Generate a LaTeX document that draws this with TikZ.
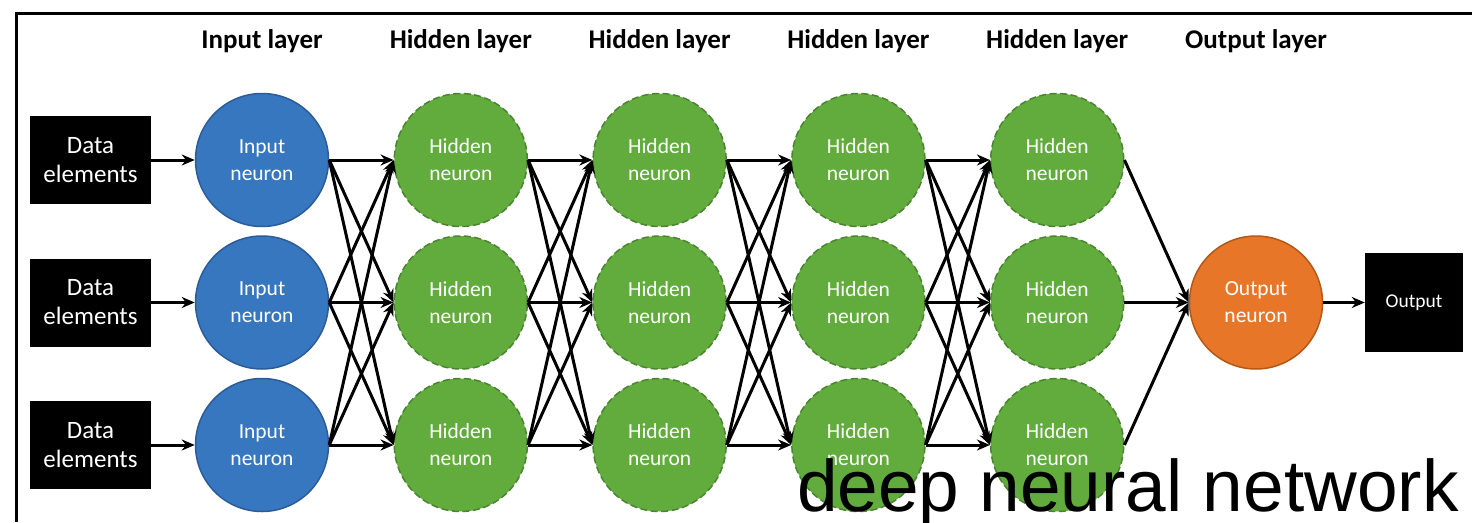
\documentclass[tikz,border=0pt]{standalone}
\usepackage{fontspec}
\setmainfont{Carlito}
\newfontfamily\captionfont{Liberation Sans}
\usepackage{xcolor}
\usepackage{tikz}
\usetikzlibrary{arrows.meta, positioning}

\definecolor{inblue}{RGB}{55,119,192}
\definecolor{inblueline}{RGB}{44,92,152}
\definecolor{hidgreen}{RGB}{98,172,62}
\definecolor{hidgreenline}{RGB}{74,132,48}
\definecolor{outorange}{RGB}{232,118,40}
\definecolor{outorangeline}{RGB}{180,88,24}

\begin{document}
\begin{tikzpicture}[x=1pt,y=-1pt,
  neuron/.style={circle,minimum size=133pt,inner sep=0pt,line width=1.5pt,
    text=white,align=center,font=\fontsize{21.5}{27}\selectfont},
  inneuron/.style={neuron,fill=inblue,draw=inblueline},
  hidneuron/.style={neuron,fill=hidgreen,draw=hidgreenline,dash pattern=on 7pt off 3.5pt},
  outneuron/.style={neuron,fill=outorange,draw=outorangeline},
  databox/.style={fill=black,text=white,inner sep=0pt,align=center},
  laytitle/.style={font=\bfseries\fontsize{27}{32}\selectfont},
  link/.style={line width=3pt,-{Stealth[length=13pt,width=11pt]}}]
\useasboundingbox (0,0) rectangle (1472,522);
\draw[line width=3pt] (16,522) -- (16,13) -- (1472,13);

% layer titles
\node[laytitle] (tin) at (262,41) {Input layer};
\foreach \l in {1,...,4}
  \node[laytitle] (th\l) at ({262+198.8*\l},41) {Hidden layer};
\node[laytitle] (tout) at (1256,41) {Output layer};

% inputs and neurons
\foreach \r/\y in {1/160,2/302.5,3/445} {
  \node[databox,minimum width=121pt,minimum height=88pt,
    font=\fontsize{25}{29}\selectfont] (d\r) at (90.5,\y) {Data\\elements};
  \node[inneuron] (in\r) at (262,\y) {Input\\neuron};
  \foreach \l in {1,...,4}
    \node[hidneuron] (h\l\r) at ({262+198.8*\l},\y) {Hidden\\neuron};
}
\node[outneuron] (on) at (1256,302.5) {Output\\neuron};
\node[databox,minimum width=98pt,minimum height=99pt,
  font=\fontsize{19.5}{23}\selectfont] (res) at (1414,302.5) {Output};

% connections
\foreach \i in {1,2,3} {
  \draw[link] (d\i.east) -- (in\i.west);
  \foreach \j in {1,2,3}
    \draw[link] (in\i.east) -- (h1\j.west);
  \foreach \l/\m in {1/2,2/3,3/4}
    \foreach \j in {1,2,3}
      \draw[link] (h\l\i.east) -- (h\m\j.west);
  \draw[link] (h4\i.east) -- (on.west);
}
\draw[link] (on.east) -- (res.west);

\node[anchor=base west,inner sep=0pt,font=\captionfont\fontsize{73}{80}\selectfont]
  (cap) at (797,511) {deep neural network};
\end{tikzpicture}
\end{document}
